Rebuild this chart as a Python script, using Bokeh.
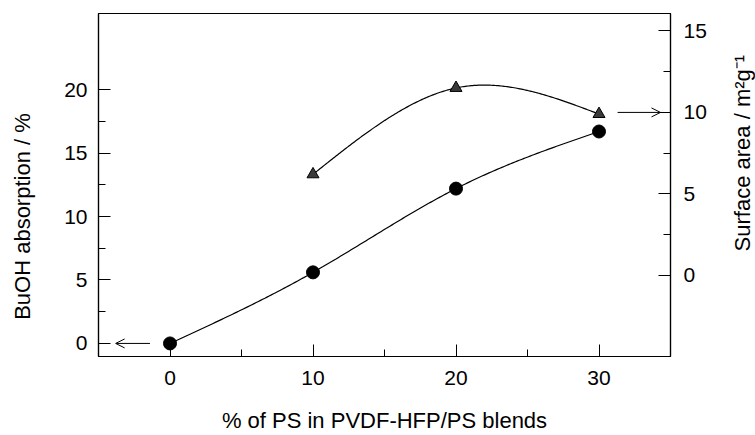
import numpy as np
from bokeh.plotting import figure
from bokeh.layouts import row
from bokeh.models import Range1d, LinearAxis, Arrow, OpenHead, FixedTicker
from bokeh.core.properties import value
from bokeh.embed import file_html
from bokeh.resources import INLINE

# ---- data ----
ps_pct = [0, 10, 20, 30]
buoh_abs = [0.0, 5.6, 12.2, 16.7]
sa_pct = [10, 20, 30]
surface_area = [6.2, 11.5, 9.9]

x_ticks = [0, 10, 20, 30]
x_minor = [5, 15, 25]
left_ticks = [0, 5, 10, 15, 20]
left_minor = [2.5, 7.5, 12.5, 17.5]
right_ticks = [0, 5, 10, 15]
right_minor = [2.5, 7.5, 12.5]

x_title = "% of PS in PVDF-HFP/PS blends"
left_title = "BuOH absorption / %"
right_title = "Surface area / m\u00b2g\u207b\u00b9"

FONT = "Liberation Sans"


def natural_spline(xs, ys, n=200):
    xs = np.asarray(xs, float)
    ys = np.asarray(ys, float)
    k = len(xs)
    h = np.diff(xs)
    A = np.zeros((k, k))
    b = np.zeros(k)
    A[0, 0] = 1
    A[-1, -1] = 1
    for i in range(1, k - 1):
        A[i, i - 1] = h[i - 1]
        A[i, i] = 2 * (h[i - 1] + h[i])
        A[i, i + 1] = h[i]
        b[i] = 6 * ((ys[i + 1] - ys[i]) / h[i] - (ys[i] - ys[i - 1]) / h[i - 1])
    M = np.linalg.solve(A, b)
    xx = np.linspace(xs[0], xs[-1], n)
    yy = np.empty_like(xx)
    for j, x in enumerate(xx):
        i = min(np.searchsorted(xs, x, side="right") - 1, k - 2)
        hi = h[i]
        a = xs[i + 1] - x
        c = x - xs[i]
        yy[j] = (M[i] * a ** 3 / (6 * hi) + M[i + 1] * c ** 3 / (6 * hi)
                 + (ys[i] / hi - M[i] * hi / 6) * a
                 + (ys[i + 1] / hi - M[i + 1] * hi / 6) * c)
    return xx, yy


left_range = Range1d(-1.03, 26.0)
right_range = Range1d(-4.98, 16.07)

# ---- main plot ----
p = figure(width=660, height=435,
           x_range=Range1d(-5, 35), y_range=left_range,
           output_backend="svg", toolbar_location=None,
           min_border_left=48, min_border_right=40,
           min_border_top=13, min_border_bottom=79)
p.extra_y_ranges = {"sa": right_range}
p.grid.visible = False
p.outline_line_color = "black"
p.outline_line_width = 1.2
p.background_fill_color = "white"
p.border_fill_color = "white"


def style_axis(ax, ticks, minor, standoff):
    ax.ticker = FixedTicker(ticks=ticks, minor_ticks=minor)
    ax.major_tick_in = 12
    ax.major_tick_out = 0
    ax.minor_tick_in = 7
    ax.minor_tick_out = 0
    ax.axis_line_color = "black"
    ax.axis_line_width = 1.2
    ax.major_tick_line_color = "black"
    ax.minor_tick_line_color = "black"
    ax.major_label_text_font = FONT
    ax.major_label_text_font_size = "21px"
    ax.major_label_text_color = "black"
    ax.major_label_standoff = standoff


style_axis(p.xaxis[0], x_ticks, x_minor, 14)
style_axis(p.yaxis[0], left_ticks, left_minor, 11)
p.xaxis[0].axis_label = x_title
p.xaxis[0].axis_label_text_font = FONT
p.xaxis[0].axis_label_text_font_size = "22px"
p.xaxis[0].axis_label_text_font_style = "normal"
p.xaxis[0].axis_label_text_color = "black"
p.xaxis[0].axis_label_standoff = 20

ra = LinearAxis(y_range_name="sa")
style_axis(ra, right_ticks, right_minor, 13)
p.add_layout(ra, "right")

# smooth curves through the measured points
cx, cy = natural_spline(ps_pct, buoh_abs)
p.line(cx, cy, line_color="black", line_width=1.2)
tx, ty = natural_spline(sa_pct, surface_area)
p.line(tx, ty, line_color="black", line_width=1.2, y_range_name="sa")

p.scatter(ps_pct, buoh_abs, marker="circle", size=13,
          fill_color="black", line_color="black")
p.scatter(sa_pct, surface_area, marker="triangle", size=12,
          fill_color="#3a3a3a", line_color="black", y_range_name="sa")

# arrows pointing to the relevant axes
p.add_layout(Arrow(end=OpenHead(size=9, line_width=1, line_color="black"),
                   x_start=-1.4, y_start=0, x_end=-3.8, y_end=0,
                   line_width=1, line_color="black"))
p.add_layout(Arrow(end=OpenHead(size=9, line_width=1, line_color="black"),
                   x_start=31.3, y_start=10, x_end=34.3, y_end=10,
                   line_width=1, line_color="black", y_range_name="sa"))


# ---- side strips carrying the vertical axis titles (share the y ranges) ----
def title_strip(width, yr, text, cx, cy):
    f = figure(width=width, height=435, x_range=Range1d(0, width),
               y_range=yr, output_backend="svg",
               toolbar_location=None, x_axis_location=None,
               y_axis_location=None, min_border=0)
    f.grid.visible = False
    f.outline_line_color = None
    f.background_fill_color = "white"
    f.border_fill_color = "white"
    f.text(x=[cx], y=[cy], text=[text], angle=np.pi / 2,
           text_align="center", text_baseline="middle",
           text_font=value(FONT), text_font_size="22px", text_color="black")
    return f


# centred on the middle of each axis's labelled span
left_strip = title_strip(50, left_range, left_title, 21.5, 10)
right_strip = title_strip(45, right_range, right_title, 31.5, 7.5)

layout = row(left_strip, p, right_strip)
open("out.html", "w").write(file_html(layout, INLINE))
